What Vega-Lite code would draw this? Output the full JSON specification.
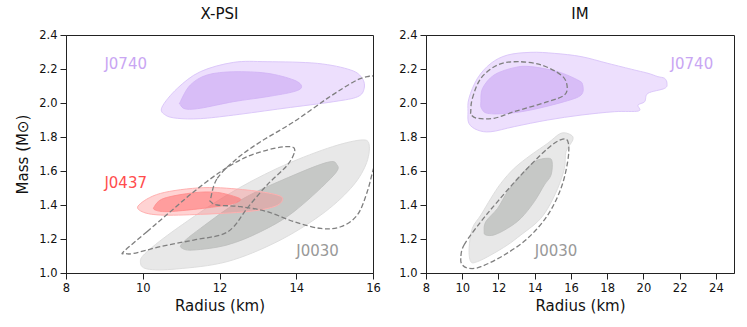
{
  "$schema": "https://vega.github.io/schema/vega-lite/v6.json",
  "padding": {"left": 15, "top": 6, "right": 5, "bottom": 5},
  "spacing": 17,
  "config": {
    "font": "DejaVu Sans",
    "view": {"stroke": "#222222", "strokeWidth": 1},
    "axis": {"grid": false, "domainColor": "#222222", "tickColor": "#222222", "labelColor": "#111111", "titleColor": "#111111", "labelFontSize": 11.5, "titleFontSize": 15, "titleFontWeight": "normal", "tickSize": 6, "labelPadding": 3, "labelFont": "DejaVu Sans", "titleFont": "DejaVu Sans", "labelFlush": false},
    "axisX": {"titlePadding": 5},
    "axisY": {"titlePadding": 8},
    "title": {"fontSize": 15, "fontWeight": "normal", "font": "DejaVu Sans", "color": "#111111", "offset": 7}
  },
  "datasets": {
    "shapes": [
      {"p":"X","s":"vo","i":0,"x":10.5,"y":1.975},{"p":"X","s":"vo","i":1,"x":10.9,"y":2.086},{"p":"X","s":"vo","i":2,"x":11.5,"y":2.184},{"p":"X","s":"vo","i":3,"x":12.37,"y":2.239},{"p":"X","s":"vo","i":4,"x":13.24,"y":2.243},{"p":"X","s":"vo","i":5,"x":14.55,"y":2.233},{"p":"X","s":"vo","i":6,"x":15.42,"y":2.194},{"p":"X","s":"vo","i":7,"x":15.72,"y":2.145},{"p":"X","s":"vo","i":8,"x":15.77,"y":2.086},{"p":"X","s":"vo","i":9,"x":15.6,"y":2.037},{"p":"X","s":"vo","i":10,"x":14.98,"y":2.008},{"p":"X","s":"vo","i":11,"x":13.68,"y":1.969},{"p":"X","s":"vo","i":12,"x":12.37,"y":1.929},{"p":"X","s":"vo","i":13,"x":11.5,"y":1.908},{"p":"X","s":"vo","i":14,"x":10.9,"y":1.91},{"p":"X","s":"vo","i":15,"x":10.59,"y":1.929},
      {"p":"X","s":"vi","i":0,"x":10.98,"y":2.008},{"p":"X","s":"vi","i":1,"x":11.24,"y":2.106},{"p":"X","s":"vi","i":2,"x":11.68,"y":2.165},{"p":"X","s":"vi","i":3,"x":12.37,"y":2.184},{"p":"X","s":"vi","i":4,"x":13.24,"y":2.175},{"p":"X","s":"vi","i":5,"x":13.94,"y":2.135},{"p":"X","s":"vi","i":6,"x":14.14,"y":2.096},{"p":"X","s":"vi","i":7,"x":13.94,"y":2.067},{"p":"X","s":"vi","i":8,"x":13.24,"y":2.037},{"p":"X","s":"vi","i":9,"x":12.37,"y":2.008},{"p":"X","s":"vi","i":10,"x":11.5,"y":1.969},{"p":"X","s":"vi","i":11,"x":11.11,"y":1.965},{"p":"X","s":"vi","i":12,"x":10.98,"y":1.99},
      {"p":"X","s":"go","i":0,"x":9.94,"y":1.067},{"p":"X","s":"go","i":1,"x":10.11,"y":1.125},{"p":"X","s":"go","i":2,"x":10.89,"y":1.262},{"p":"X","s":"go","i":3,"x":12.2,"y":1.459},{"p":"X","s":"go","i":4,"x":13.5,"y":1.615},{"p":"X","s":"go","i":5,"x":14.81,"y":1.733},{"p":"X","s":"go","i":6,"x":15.68,"y":1.782},{"p":"X","s":"go","i":7,"x":15.9,"y":1.753},{"p":"X","s":"go","i":8,"x":15.81,"y":1.635},{"p":"X","s":"go","i":9,"x":15.42,"y":1.498},{"p":"X","s":"go","i":10,"x":14.64,"y":1.341},{"p":"X","s":"go","i":11,"x":13.5,"y":1.184},{"p":"X","s":"go","i":12,"x":12.2,"y":1.067},{"p":"X","s":"go","i":13,"x":10.89,"y":1.024},{"p":"X","s":"go","i":14,"x":10.11,"y":1.024},
      {"p":"X","s":"gi","i":0,"x":11.03,"y":1.175},{"p":"X","s":"gi","i":1,"x":11.5,"y":1.262},{"p":"X","s":"gi","i":2,"x":12.63,"y":1.439},{"p":"X","s":"gi","i":3,"x":13.94,"y":1.576},{"p":"X","s":"gi","i":4,"x":14.81,"y":1.651},{"p":"X","s":"gi","i":5,"x":15.05,"y":1.64},{"p":"X","s":"gi","i":6,"x":14.98,"y":1.576},{"p":"X","s":"gi","i":7,"x":13.94,"y":1.361},{"p":"X","s":"gi","i":8,"x":13.07,"y":1.243},{"p":"X","s":"gi","i":9,"x":12.2,"y":1.165},{"p":"X","s":"gi","i":10,"x":11.33,"y":1.135},{"p":"X","s":"gi","i":11,"x":11.03,"y":1.145},
      {"p":"X","s":"ro","i":0,"x":9.9,"y":1.4},{"p":"X","s":"ro","i":1,"x":10.46,"y":1.468},{"p":"X","s":"ro","i":2,"x":11.59,"y":1.502},{"p":"X","s":"ro","i":3,"x":12.72,"y":1.488},{"p":"X","s":"ro","i":4,"x":13.5,"y":1.459},{"p":"X","s":"ro","i":5,"x":13.64,"y":1.429},{"p":"X","s":"ro","i":6,"x":13.42,"y":1.39},{"p":"X","s":"ro","i":7,"x":12.72,"y":1.361},{"p":"X","s":"ro","i":8,"x":11.5,"y":1.345},{"p":"X","s":"ro","i":9,"x":10.46,"y":1.341},{"p":"X","s":"ro","i":10,"x":9.98,"y":1.361},
      {"p":"X","s":"ri","i":0,"x":10.3,"y":1.39},{"p":"X","s":"ri","i":1,"x":10.55,"y":1.439},{"p":"X","s":"ri","i":2,"x":11.33,"y":1.472},{"p":"X","s":"ri","i":3,"x":11.94,"y":1.474},{"p":"X","s":"ri","i":4,"x":12.46,"y":1.445},{"p":"X","s":"ri","i":5,"x":12.53,"y":1.425},{"p":"X","s":"ri","i":6,"x":12.2,"y":1.4},{"p":"X","s":"ri","i":7,"x":11.33,"y":1.374},{"p":"X","s":"ri","i":8,"x":10.63,"y":1.361},{"p":"X","s":"ri","i":9,"x":10.33,"y":1.37},
      {"p":"X","s":"d1","i":0,"x":9.5,"y":1.125},{"p":"X","s":"d1","i":1,"x":10.11,"y":1.243},{"p":"X","s":"d1","i":2,"x":10.72,"y":1.361},{"p":"X","s":"d1","i":3,"x":11.33,"y":1.478},{"p":"X","s":"d1","i":4,"x":12.03,"y":1.596},{"p":"X","s":"d1","i":5,"x":12.72,"y":1.684},{"p":"X","s":"d1","i":6,"x":13.42,"y":1.733},{"p":"X","s":"d1","i":7,"x":13.85,"y":1.743},{"p":"X","s":"d1","i":8,"x":13.96,"y":1.718},{"p":"X","s":"d1","i":9,"x":13.77,"y":1.635},{"p":"X","s":"d1","i":10,"x":13.24,"y":1.518},{"p":"X","s":"d1","i":11,"x":12.72,"y":1.38},{"p":"X","s":"d1","i":12,"x":12.37,"y":1.272},{"p":"X","s":"d1","i":13,"x":12.03,"y":1.224},{"p":"X","s":"d1","i":14,"x":11.33,"y":1.194},{"p":"X","s":"d1","i":15,"x":10.46,"y":1.155},{"p":"X","s":"d1","i":16,"x":9.76,"y":1.115},{"p":"X","s":"d1","i":17,"x":9.54,"y":1.115},
      {"p":"X","s":"d2","i":0,"x":11.77,"y":1.439},{"p":"X","s":"d2","i":1,"x":11.94,"y":1.556},{"p":"X","s":"d2","i":2,"x":12.46,"y":1.674},{"p":"X","s":"d2","i":3,"x":13.07,"y":1.772},{"p":"X","s":"d2","i":4,"x":13.94,"y":1.89},{"p":"X","s":"d2","i":5,"x":14.81,"y":2.027},{"p":"X","s":"d2","i":6,"x":15.5,"y":2.125},{"p":"X","s":"d2","i":7,"x":15.85,"y":2.155},{"p":"X","s":"d2","i":8,"x":16.05,"y":2.145},{"p":"X","s":"d2","i":9,"x":16.3,"y":2.0},{"p":"X","s":"d2","i":10,"x":16.35,"y":1.8},{"p":"X","s":"d2","i":11,"x":16.05,"y":1.64},{"p":"X","s":"d2","i":12,"x":15.85,"y":1.478},{"p":"X","s":"d2","i":13,"x":15.59,"y":1.341},{"p":"X","s":"d2","i":14,"x":15.16,"y":1.272},{"p":"X","s":"d2","i":15,"x":14.64,"y":1.262},{"p":"X","s":"d2","i":16,"x":13.94,"y":1.302},{"p":"X","s":"d2","i":17,"x":13.24,"y":1.361},{"p":"X","s":"d2","i":18,"x":12.55,"y":1.39},{"p":"X","s":"d2","i":19,"x":11.94,"y":1.4},{"p":"X","s":"d2","i":20,"x":11.77,"y":1.42},
      {"p":"I","s":"vo","i":0,"x":10.32,"y":1.949},{"p":"I","s":"vo","i":1,"x":10.37,"y":2.027},{"p":"I","s":"vo","i":2,"x":10.84,"y":2.145},{"p":"I","s":"vo","i":3,"x":11.58,"y":2.233},{"p":"I","s":"vo","i":4,"x":12.5,"y":2.282},{"p":"I","s":"vo","i":5,"x":13.79,"y":2.298},{"p":"I","s":"vo","i":6,"x":15.08,"y":2.292},{"p":"I","s":"vo","i":7,"x":16.56,"y":2.273},{"p":"I","s":"vo","i":8,"x":18.04,"y":2.233},{"p":"I","s":"vo","i":9,"x":19.51,"y":2.194},{"p":"I","s":"vo","i":10,"x":20.25,"y":2.175},{"p":"I","s":"vo","i":11,"x":20.8,"y":2.155},{"p":"I","s":"vo","i":12,"x":21.17,"y":2.145},{"p":"I","s":"vo","i":13,"x":21.3,"y":2.116},{"p":"I","s":"vo","i":14,"x":21.17,"y":2.086},{"p":"I","s":"vo","i":15,"x":20.25,"y":2.057},{"p":"I","s":"vo","i":16,"x":20.07,"y":2.008},{"p":"I","s":"vo","i":17,"x":19.7,"y":1.988},{"p":"I","s":"vo","i":18,"x":19.73,"y":1.953},{"p":"I","s":"vo","i":19,"x":18.41,"y":1.949},{"p":"I","s":"vo","i":20,"x":16.56,"y":1.929},{"p":"I","s":"vo","i":21,"x":14.72,"y":1.9},{"p":"I","s":"vo","i":22,"x":12.87,"y":1.861},{"p":"I","s":"vo","i":23,"x":11.58,"y":1.831},{"p":"I","s":"vo","i":24,"x":10.84,"y":1.841},{"p":"I","s":"vo","i":25,"x":10.37,"y":1.88},
      {"p":"I","s":"vi","i":0,"x":11.03,"y":2.008},{"p":"I","s":"vi","i":1,"x":11.12,"y":2.086},{"p":"I","s":"vi","i":2,"x":11.76,"y":2.165},{"p":"I","s":"vi","i":3,"x":12.87,"y":2.208},{"p":"I","s":"vi","i":4,"x":13.79,"y":2.214},{"p":"I","s":"vi","i":5,"x":15.27,"y":2.184},{"p":"I","s":"vi","i":6,"x":16.38,"y":2.135},{"p":"I","s":"vi","i":7,"x":16.65,"y":2.106},{"p":"I","s":"vi","i":8,"x":16.56,"y":2.047},{"p":"I","s":"vi","i":9,"x":15.64,"y":2.008},{"p":"I","s":"vi","i":10,"x":13.79,"y":1.959},{"p":"I","s":"vi","i":11,"x":12.5,"y":1.939},{"p":"I","s":"vi","i":12,"x":11.4,"y":1.939},{"p":"I","s":"vi","i":13,"x":11.06,"y":1.969},
      {"p":"I","s":"go","i":0,"x":10.47,"y":1.067},{"p":"I","s":"go","i":1,"x":10.38,"y":1.145},{"p":"I","s":"go","i":2,"x":10.56,"y":1.263},{"p":"I","s":"go","i":3,"x":11.03,"y":1.341},{"p":"I","s":"go","i":4,"x":11.58,"y":1.439},{"p":"I","s":"go","i":5,"x":12.13,"y":1.527},{"p":"I","s":"go","i":6,"x":12.87,"y":1.616},{"p":"I","s":"go","i":7,"x":13.79,"y":1.694},{"p":"I","s":"go","i":8,"x":14.72,"y":1.763},{"p":"I","s":"go","i":9,"x":15.45,"y":1.822},{"p":"I","s":"go","i":10,"x":16.0,"y":1.812},{"p":"I","s":"go","i":11,"x":16.1,"y":1.782},{"p":"I","s":"go","i":12,"x":15.73,"y":1.714},{"p":"I","s":"go","i":13,"x":15.64,"y":1.616},{"p":"I","s":"go","i":14,"x":15.27,"y":1.498},{"p":"I","s":"go","i":15,"x":14.72,"y":1.38},{"p":"I","s":"go","i":16,"x":14.16,"y":1.302},{"p":"I","s":"go","i":17,"x":13.24,"y":1.224},{"p":"I","s":"go","i":18,"x":12.5,"y":1.165},{"p":"I","s":"go","i":19,"x":11.58,"y":1.106},{"p":"I","s":"go","i":20,"x":10.84,"y":1.067},
      {"p":"I","s":"gi","i":0,"x":11.21,"y":1.243},{"p":"I","s":"gi","i":1,"x":11.3,"y":1.302},{"p":"I","s":"gi","i":2,"x":11.95,"y":1.38},{"p":"I","s":"gi","i":3,"x":12.5,"y":1.478},{"p":"I","s":"gi","i":4,"x":13.24,"y":1.576},{"p":"I","s":"gi","i":5,"x":13.98,"y":1.655},{"p":"I","s":"gi","i":6,"x":14.72,"y":1.675},{"p":"I","s":"gi","i":7,"x":14.96,"y":1.655},{"p":"I","s":"gi","i":8,"x":14.9,"y":1.576},{"p":"I","s":"gi","i":9,"x":14.53,"y":1.518},{"p":"I","s":"gi","i":10,"x":13.98,"y":1.42},{"p":"I","s":"gi","i":11,"x":13.24,"y":1.322},{"p":"I","s":"gi","i":12,"x":12.5,"y":1.263},{"p":"I","s":"gi","i":13,"x":11.76,"y":1.224},{"p":"I","s":"gi","i":14,"x":11.3,"y":1.224},
      {"p":"I","s":"d1","i":0,"x":10.47,"y":1.949},{"p":"I","s":"d1","i":1,"x":10.56,"y":2.027},{"p":"I","s":"d1","i":2,"x":11.03,"y":2.145},{"p":"I","s":"d1","i":3,"x":11.95,"y":2.224},{"p":"I","s":"d1","i":4,"x":13.06,"y":2.243},{"p":"I","s":"d1","i":5,"x":14.35,"y":2.224},{"p":"I","s":"d1","i":6,"x":15.45,"y":2.165},{"p":"I","s":"d1","i":7,"x":15.78,"y":2.106},{"p":"I","s":"d1","i":8,"x":15.64,"y":2.047},{"p":"I","s":"d1","i":9,"x":14.72,"y":2.008},{"p":"I","s":"d1","i":10,"x":12.87,"y":1.949},{"p":"I","s":"d1","i":11,"x":11.76,"y":1.91},{"p":"I","s":"d1","i":12,"x":10.84,"y":1.91},{"p":"I","s":"d1","i":13,"x":10.5,"y":1.929},
      {"p":"I","s":"d2","i":0,"x":9.92,"y":1.086},{"p":"I","s":"d2","i":1,"x":10.1,"y":1.165},{"p":"I","s":"d2","i":2,"x":11.03,"y":1.302},{"p":"I","s":"d2","i":3,"x":11.95,"y":1.42},{"p":"I","s":"d2","i":4,"x":13.24,"y":1.576},{"p":"I","s":"d2","i":5,"x":14.72,"y":1.733},{"p":"I","s":"d2","i":6,"x":15.55,"y":1.788},{"p":"I","s":"d2","i":7,"x":15.86,"y":1.763},{"p":"I","s":"d2","i":8,"x":15.82,"y":1.655},{"p":"I","s":"d2","i":9,"x":15.45,"y":1.498},{"p":"I","s":"d2","i":10,"x":14.72,"y":1.341},{"p":"I","s":"d2","i":11,"x":13.61,"y":1.204},{"p":"I","s":"d2","i":12,"x":12.32,"y":1.106},{"p":"I","s":"d2","i":13,"x":11.03,"y":1.037},{"p":"I","s":"d2","i":14,"x":10.38,"y":1.027},{"p":"I","s":"d2","i":15,"x":10.01,"y":1.047}
    ],
    "labels": [
      {"p":"X","t":"J0740","x":9,"y":2.2,"c":"#c9a6f3"},
      {"p":"X","t":"J0437","x":9,"y":1.5,"c":"#ff4d4d"},
      {"p":"X","t":"J0030","x":14,"y":1.1,"c":"#999999"},
      {"p":"I","t":"J0740","x":21.5,"y":2.2,"c":"#c9a6f3"},
      {"p":"I","t":"J0030","x":14,"y":1.1,"c":"#999999"}
    ]
  },
  "hconcat": [
    {
      "title": "X-PSI",
      "width": 307,
      "height": 238,
      "data": {"name": "shapes"},
      "encoding": {
        "x": {"field": "x", "type": "quantitative", "scale": {"domain": [8, 16], "nice": false, "zero": false}, "axis": {"title": "Radius (km)", "values": [8, 10, 12, 14, 16]}},
        "y": {"field": "y", "type": "quantitative", "scale": {"domain": [1, 2.4], "nice": false, "zero": false}, "axis": {"title": "Mass (M⊙)", "values": [1, 1.2, 1.4, 1.6, 1.8, 2, 2.2, 2.4], "format": ".1f"}},
        "order": {"field": "i", "type": "quantitative"}
      },
      "layer": [
        {"transform": [{"filter": "datum.p == 'X' && datum.s == 'vo'"}], "mark": {"type": "line", "interpolate": "cardinal-closed", "fill": "#eddffd", "stroke": "#dcc8fa", "strokeWidth": 1, "clip": true}},
        {"transform": [{"filter": "datum.p == 'X' && datum.s == 'vi'"}], "mark": {"type": "line", "interpolate": "cardinal-closed", "fill": "#d8bdf7", "stroke": "#d0b3f5", "strokeWidth": 0.8, "clip": true}},
        {"transform": [{"filter": "datum.p == 'X' && datum.s == 'go'"}], "mark": {"type": "line", "interpolate": "cardinal-closed", "fill": "#e8e8e8", "stroke": "#dedede", "strokeWidth": 1, "clip": true}},
        {"transform": [{"filter": "datum.p == 'X' && datum.s == 'gi'"}], "mark": {"type": "line", "interpolate": "cardinal-closed", "fill": "#c6c8c6", "stroke": "#bcbebc", "strokeWidth": 0.8, "clip": true}},
        {"transform": [{"filter": "datum.p == 'X' && datum.s == 'ro'"}], "mark": {"type": "line", "interpolate": "cardinal-closed", "fill": "#ff8080", "fillOpacity": 0.35, "stroke": "#ffb0b0", "strokeWidth": 1, "clip": true}},
        {"transform": [{"filter": "datum.p == 'X' && datum.s == 'ri'"}], "mark": {"type": "line", "interpolate": "cardinal-closed", "fill": "#ff3838", "fillOpacity": 0.35, "stroke": "#ff8a8a", "strokeWidth": 0.8, "clip": true}},
        {"transform": [{"filter": "datum.p == 'X' && (datum.s == 'd1' || datum.s == 'd2')"}], "mark": {"type": "line", "interpolate": "cardinal-closed", "stroke": "#7f7f7f", "strokeWidth": 1.3, "strokeDash": [5, 2.5], "clip": true}, "encoding": {"detail": {"field": "s"}}},
        {"data": {"name": "labels"}, "transform": [{"filter": "datum.p == 'X'"}], "mark": {"type": "text", "align": "left", "baseline": "alphabetic", "fontSize": 15, "font": "DejaVu Sans"}, "encoding": {"text": {"field": "t"}, "color": {"field": "c", "type": "nominal", "scale": null}, "order": null}}
      ]
    },
    {
      "title": "IM",
      "width": 308,
      "height": 238,
      "data": {"name": "shapes"},
      "encoding": {
        "x": {"field": "x", "type": "quantitative", "scale": {"domain": [8, 25], "nice": false, "zero": false}, "axis": {"title": "Radius (km)", "values": [8, 10, 12, 14, 16, 18, 20, 22, 24]}},
        "y": {"field": "y", "type": "quantitative", "scale": {"domain": [1, 2.4], "nice": false, "zero": false}, "axis": {"title": null, "values": [1, 1.2, 1.4, 1.6, 1.8, 2, 2.2, 2.4], "format": ".1f"}},
        "order": {"field": "i", "type": "quantitative"}
      },
      "layer": [
        {"transform": [{"filter": "datum.p == 'I' && datum.s == 'vo'"}], "mark": {"type": "line", "interpolate": "cardinal-closed", "fill": "#eddffd", "stroke": "#dcc8fa", "strokeWidth": 1, "clip": true}},
        {"transform": [{"filter": "datum.p == 'I' && datum.s == 'vi'"}], "mark": {"type": "line", "interpolate": "cardinal-closed", "fill": "#d8bdf7", "stroke": "#d0b3f5", "strokeWidth": 0.8, "clip": true}},
        {"transform": [{"filter": "datum.p == 'I' && datum.s == 'go'"}], "mark": {"type": "line", "interpolate": "cardinal-closed", "fill": "#e8e8e8", "stroke": "#dedede", "strokeWidth": 1, "clip": true}},
        {"transform": [{"filter": "datum.p == 'I' && datum.s == 'gi'"}], "mark": {"type": "line", "interpolate": "cardinal-closed", "fill": "#c6c8c6", "stroke": "#bcbebc", "strokeWidth": 0.8, "clip": true}},
        {"transform": [{"filter": "datum.p == 'I' && (datum.s == 'd1' || datum.s == 'd2')"}], "mark": {"type": "line", "interpolate": "cardinal-closed", "stroke": "#7f7f7f", "strokeWidth": 1.3, "strokeDash": [5, 2.5], "clip": true}, "encoding": {"detail": {"field": "s"}}},
        {"data": {"name": "labels"}, "transform": [{"filter": "datum.p == 'I'"}], "mark": {"type": "text", "align": "left", "baseline": "alphabetic", "fontSize": 15, "font": "DejaVu Sans"}, "encoding": {"text": {"field": "t"}, "color": {"field": "c", "type": "nominal", "scale": null}, "order": null}}
      ]
    }
  ]
}
